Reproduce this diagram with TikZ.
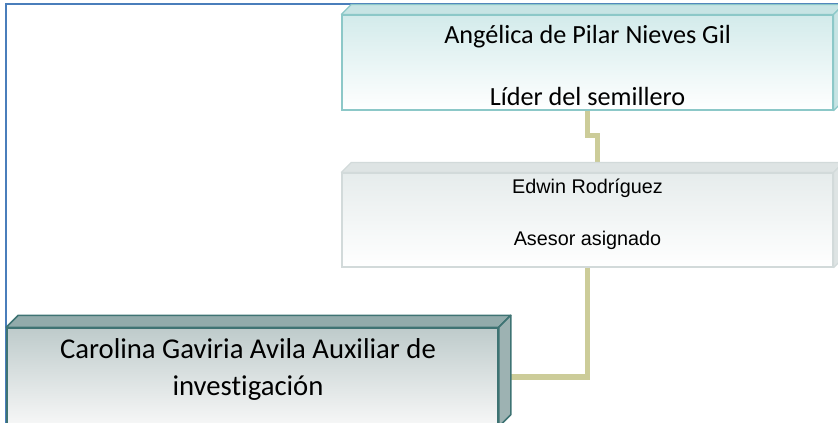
\documentclass[tikz,border=0pt]{standalone}
\usepackage{fontspec}
\setmainfont{Carlito}[Ligatures=NoCommon]
\newfontfamily\arialfont{Liberation Sans}
\usepackage{tikz}

\definecolor{marco}{RGB}{74,126,187}
\definecolor{enlace}{RGB}{204,204,153}
\definecolor{liderborde}{RGB}{140,200,200}
\definecolor{liderfrente}{RGB}{211,235,235}
\definecolor{lidertapa}{RGB}{199,228,228}
\definecolor{asesorborde}{RGB}{210,218,218}
\definecolor{asesorfrente}{RGB}{230,236,236}
\definecolor{asesortapa}{RGB}{222,228,228}
\definecolor{auxborde}{RGB}{62,115,115}
\definecolor{auxfrente}{RGB}{190,203,203}
\definecolor{auxtapa}{RGB}{146,171,171}
\definecolor{auxlado}{RGB}{140,165,165}

\begin{document}
\begin{tikzpicture}
	[x=1pt,y=-1pt,
	caja/.style={minimum width=491pt,minimum height=94pt,inner sep=0pt,align=center},
	lider/.style={caja,draw=liderborde,line width=1.2pt,top color=liderfrente,bottom color=white,
		minimum height=95pt,font=\fontsize{26.2}{62}\selectfont},
	asesor/.style={caja,draw=asesorborde,line width=1.2pt,top color=asesorfrente,bottom color=white,
		font=\arialfont\fontsize{19.8}{52}\selectfont},
	auxiliar/.style={caja,draw=auxborde,line width=1.5pt,top color=auxfrente,bottom color=white!97!black,
		font=\fontsize{28.7}{37}\selectfont},
	enlace/.style={draw=enlace,line width=5.5pt},
	tapa/.style={line width=1.2pt,line join=round}]
	\clip (0,0) rectangle (838,423);
	\useasboundingbox (0,0) rectangle (838,423);
	\draw[marco,line width=2pt] (5.5,430) |- (845,4);

	%cajas
	\node (lider) at (587.5,62.5) [lider] {\rule{0pt}{24pt}Angélica de Pilar Nieves Gil\\\rule[-1pt]{0pt}{1pt}Líder del semillero};
	\node (asesor) at (587.5,220) [asesor] {\rule{0pt}{20pt}Edwin Rodríguez\\\rule[-22pt]{0pt}{22pt}Asesor asignado};
	\node (auxiliar) at (252.5,377) [auxiliar] {\rule{0pt}{30pt}Carolina Gaviria Avila Auxiliar de\hspace*{9pt}\\\rule[-31pt]{0pt}{31pt}investigación\hspace*{9pt}};

	%enlaces
	\draw[enlace] (lider.south) -- ++(0,25) -| ([shift={(10,-10)}]asesor.north);
	\draw[enlace] (asesor.south) |- ([xshift=12]auxiliar.east);

	%caras
	\filldraw[tapa,draw=liderborde,fill=lidertapa] (lider.north west) -- ++(10,-10) -- ([shift={(10,-10)}]lider.north east) -- (lider.north east) -- cycle;
	\filldraw[tapa,draw=liderborde,fill=lidertapa] (lider.north east) -- ++(10,-10) -- ([shift={(10,-10)}]lider.south east) -- (lider.south east) -- cycle;
	\filldraw[tapa,draw=asesorborde,fill=asesortapa] (asesor.north west) -- ++(10,-10) -- ([shift={(10,-10)}]asesor.north east) -- (asesor.north east) -- cycle;
	\filldraw[tapa,draw=asesorborde,fill=asesortapa] (asesor.north east) -- ++(10,-10) -- ([shift={(10,-10)}]asesor.south east) -- (asesor.south east) -- cycle;
	\filldraw[tapa,line width=1.5pt,draw=auxborde,fill=auxtapa] (auxiliar.north west) -- ++(12,-12) -- ([shift={(12,-12)}]auxiliar.north east) -- (auxiliar.north east) -- cycle;
	\filldraw[tapa,line width=1.5pt,draw=auxborde,fill=auxlado,fill opacity=.85] (auxiliar.north east) -- ++(12,-12) -- ([shift={(12,-12)}]auxiliar.south east) -- (auxiliar.south east) -- cycle;
\end{tikzpicture}
\end{document}
